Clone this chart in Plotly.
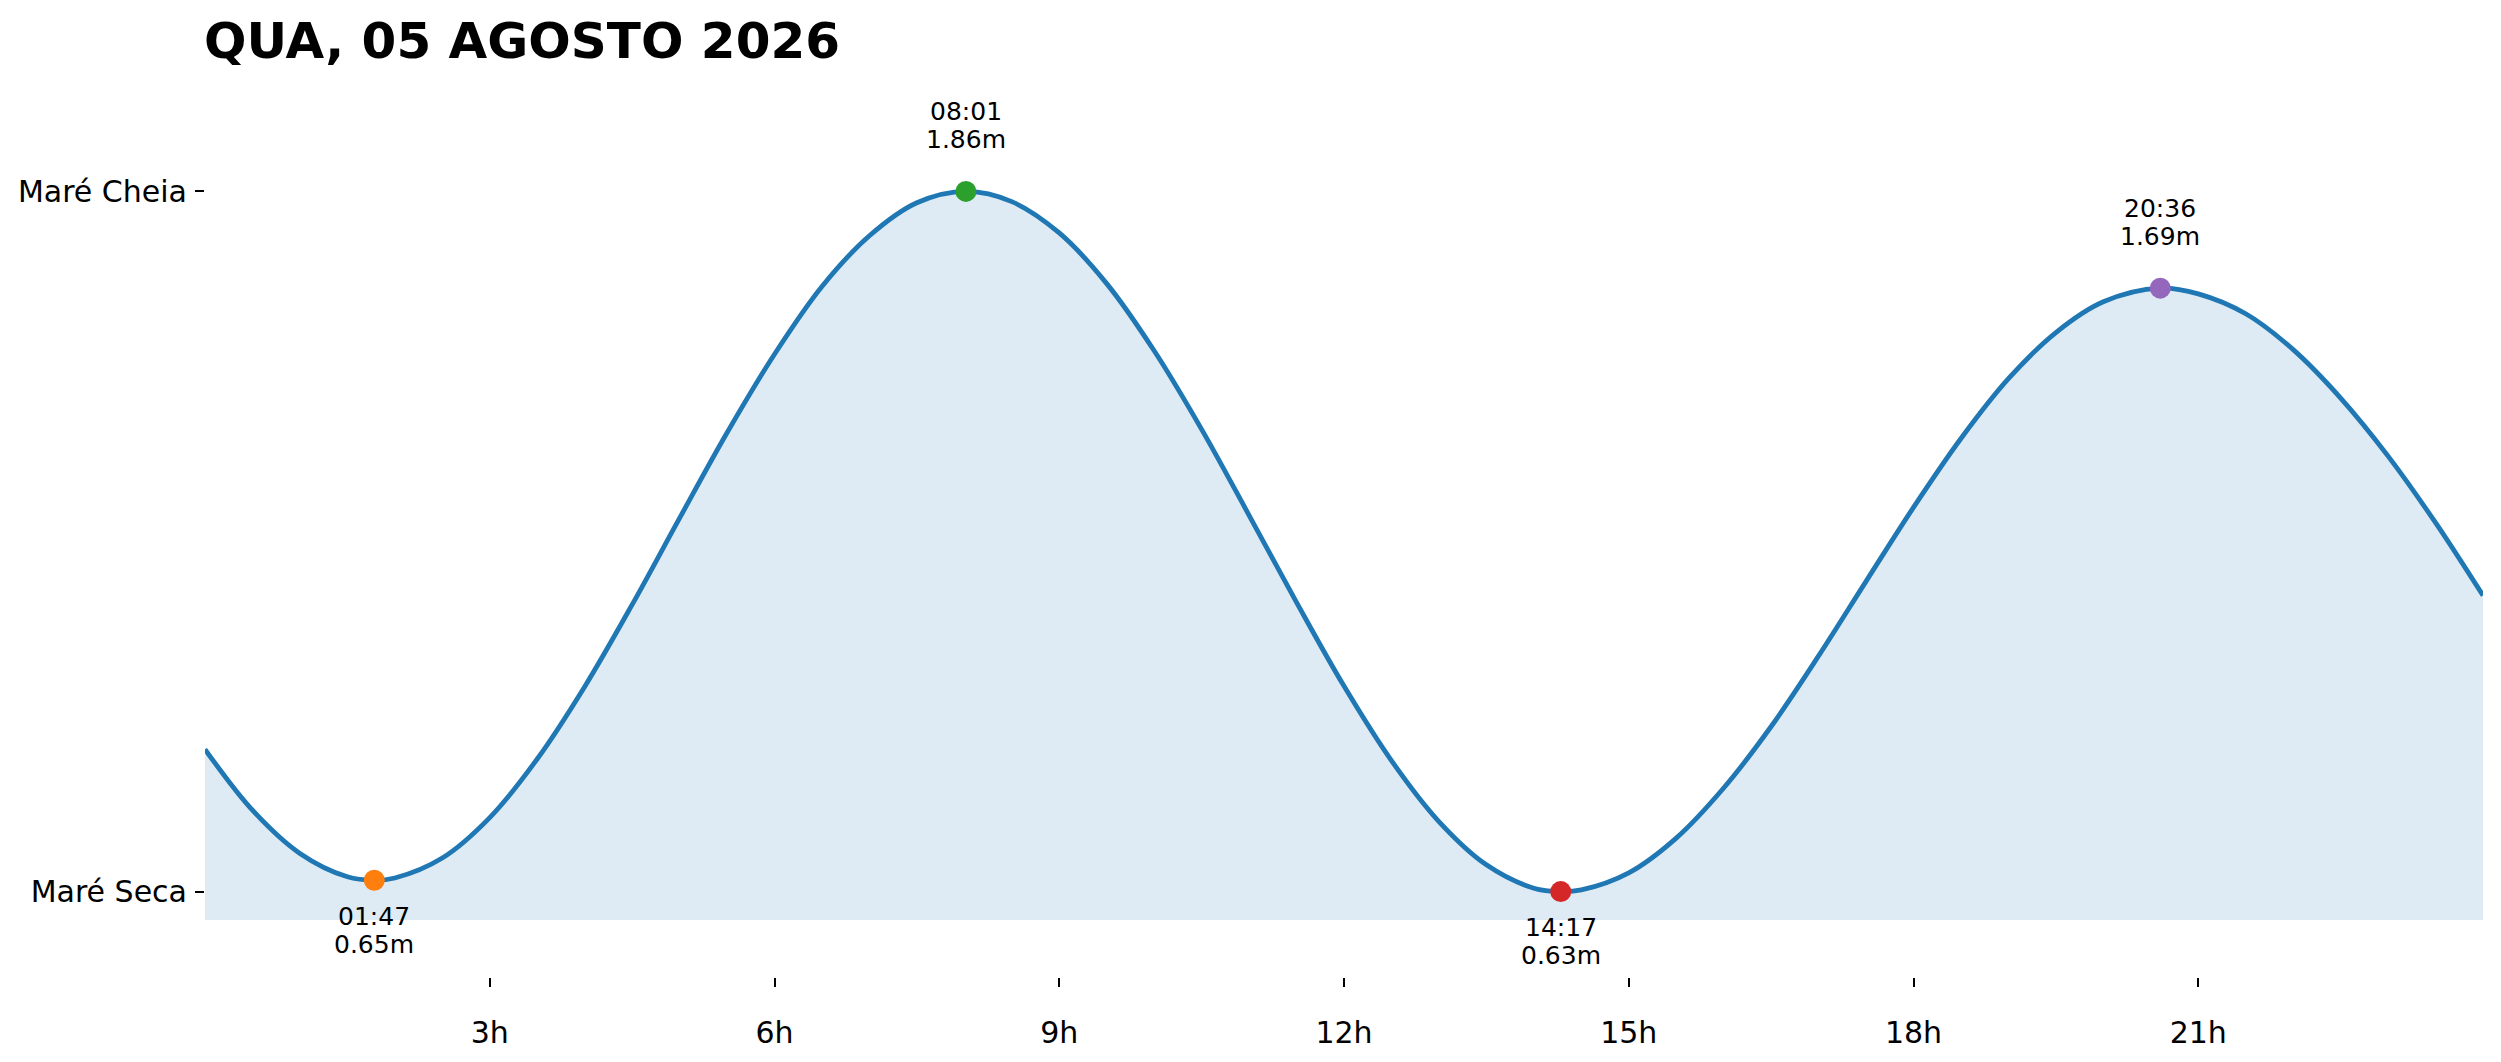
import plotly.graph_objects as go

# ---- data ----
title_text = "QUA, 05 AGOSTO 2026"

curve_hours = [0, 0.5, 1, 1.5, 1.78, 2, 2.5, 3, 3.5, 4, 4.5, 5, 5.5, 6, 6.5, 7, 7.5,
               8.02, 8.5, 9, 9.5, 10, 10.5, 11, 11.5, 12, 12.5, 13, 13.5, 14,
               14.28, 14.5, 15, 15.5, 16, 16.5, 17, 17.5, 18, 18.5, 19, 19.5, 20,
               20.6, 21, 21.5, 22, 22.5, 23, 23.5, 24]
curve_levels = [0.88, 0.773, 0.697, 0.656, 0.65, 0.654, 0.689, 0.760, 0.863, 0.990, 1.134, 1.286,
                1.436, 1.574, 1.693, 1.782, 1.840,
                1.86, 1.842, 1.787, 1.698, 1.580, 1.442, 1.291, 1.138, 0.991, 0.860, 0.753,
                0.677, 0.636,
                0.63, 0.633, 0.663, 0.724, 0.812, 0.920, 1.044, 1.175, 1.305, 1.426, 1.531,
                1.612, 1.666,
                1.69, 1.680, 1.645, 1.582, 1.497, 1.395, 1.278, 1.15]

extreme_labels = ["01:47", "08:01", "14:17", "20:36"]
extreme_hours = [1 + 47 / 60, 8 + 1 / 60, 14 + 17 / 60, 20 + 36 / 60]
extreme_levels = [0.65, 1.86, 0.63, 1.69]
extreme_kinds = ["low", "high", "low", "high"]
extreme_colors = ["#ff7f0e", "#2ca02c", "#d62728", "#9467bd"]

x_tick_vals = [3, 6, 9, 12, 15, 18, 21]
x_tick_text = ["3h", "6h", "9h", "12h", "15h", "18h", "21h"]
y_tick_text = ["Maré Seca", "Maré Cheia"]

FONT = "DejaVu Sans"

lo = min(extreme_levels)
hi = max(extreme_levels)
base = lo - 0.05

fig = go.Figure()

# baseline for the fill
fig.add_trace(go.Scatter(
    x=[curve_hours[0], curve_hours[-1]], y=[base, base],
    mode="lines", line=dict(width=0, color="rgba(0,0,0,0)"),
    hoverinfo="skip", showlegend=False))

# tide curve with fill
fig.add_trace(go.Scatter(
    x=curve_hours, y=curve_levels, mode="lines",
    line=dict(color="#1f77b4", width=4.8, shape="spline", smoothing=1.0),
    fill="tonexty", fillcolor="rgba(31,119,180,0.15)",
    showlegend=False))

# extreme markers
for h, v, c in zip(extreme_hours, extreme_levels, extreme_colors):
    fig.add_trace(go.Scatter(
        x=[h], y=[v], mode="markers",
        marker=dict(color=c, size=21, line=dict(width=0)),
        showlegend=False))

annotations = []
afont = dict(family=FONT, size=25, color="black")
for lab, h, v, k in zip(extreme_labels, extreme_hours, extreme_levels, extreme_kinds):
    if k == "high":
        shifts = (80, 52)
    else:
        shifts = (-36, -64)
    for txt, s in zip((lab, f"{v:.2f}m"), shifts):
        annotations.append(dict(x=h, y=v, xref="x", yref="y", text=txt, showarrow=False,
                                xanchor="center", yanchor="middle", yshift=s, font=afont))

# page body has an 8px margin, so the figure is offset by 8px
fig.update_layout(
    width=2485, height=1046,
    margin=dict(l=197, r=10, t=98, b=77, autoexpand=False),
    paper_bgcolor="white", plot_bgcolor="white",
    font=dict(family=FONT, color="black"),
    title=dict(text=f"<b>{title_text}</b>", xref="container", yref="container",
               x=196 / 2485, xanchor="left", y=1 - 32 / 1046, yanchor="middle",
               font=dict(family=FONT, size=50, color="black")),
    annotations=annotations,
    showlegend=False,
)

fig.update_xaxes(range=[0, 24], tickvals=x_tick_vals, ticktext=x_tick_text,
                 showgrid=False, zeroline=False, showline=False, automargin=False,
                 ticks="outside", ticklen=9, tickwidth=1.5, tickcolor="black",
                 ticklabelstandoff=20,
                 tickfont=dict(family=FONT, size=30, color="black"))
fig.update_yaxes(range=[lo - 0.15, hi + 0.15], tickvals=[lo, hi], ticktext=y_tick_text,
                 showgrid=False, zeroline=False, showline=False, automargin=False,
                 ticks="outside", ticklen=9, tickwidth=1.5, tickcolor="black",
                 ticklabelstandoff=2,
                 tickfont=dict(family=FONT, size=30, color="black"))

fig.write_html("out.html")
